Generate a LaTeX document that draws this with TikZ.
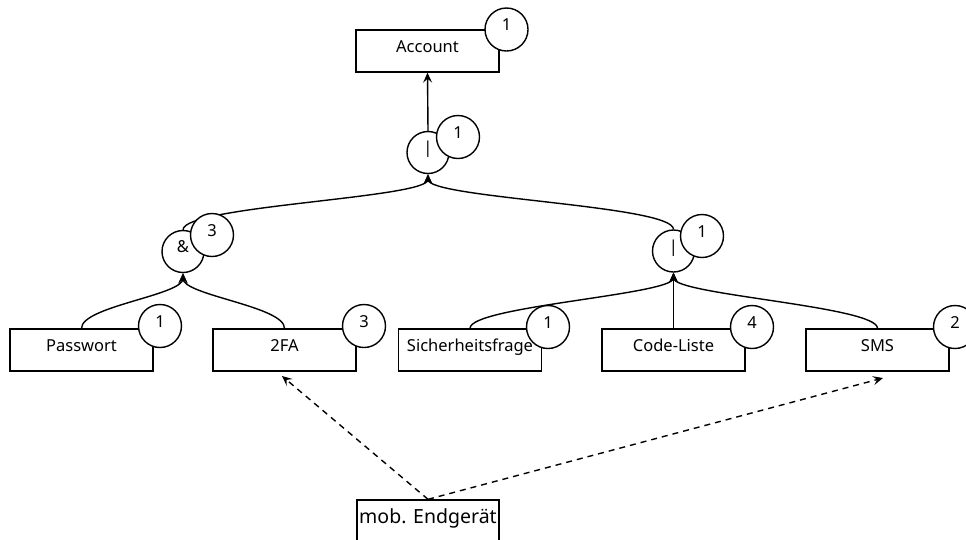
\documentclass[tikz,border=0pt]{standalone}
\usepackage{fontspec}
\setmainfont{Noto Sans}
\usetikzlibrary{arrows.meta,backgrounds}
\begin{document}
\begin{tikzpicture}[x=1pt,y=-1pt,
  every node/.style={font=\fontsize{16.5}{20}\selectfont},
  box/.style={draw, fill=white, line width=1.4pt, minimum width=143pt,
    minimum height=42pt, inner sep=0pt, text height=12pt, text depth=10pt},
  gate/.style={draw, circle, fill=white, line width=1.4pt, minimum size=42pt,
    inner sep=0pt, text height=12pt, text depth=10pt},
  cost/.style={gate, minimum size=43pt},
  link/.style={line width=1.4pt, -{Stealth[length=10pt,width=9pt,inset=4pt]}},
  uses/.style={link, dash pattern=on 6pt off 5pt},
]
\useasboundingbox (0,0) rectangle (966,539);
\clip (0,0) rectangle (966,539);

% root
\node[box] (acc) at (427.5,51) {Account};
\node[cost] (accn) at (506.5,29.5) {1};

% gates
\node[gate] (or1) at (428,152.5) {|};
\node[cost] (or1n) at (458,137) {1};
\node[gate] (and) at (183,251.5) {\&};
\node[cost] (andn) at (212,235) {3};
\node[gate] (or2) at (673.5,251) {|};
\node[cost] (or2n) at (702,236) {1};

% leaves
\node[box] (pw) at (81.5,350) {Passwort};
\node[cost] (pwn) at (160,326) {1};
\node[box] (fa) at (284.5,350) {2FA};
\node[cost] (fan) at (364,326) {3};
\node[box] (sf) at (470,350) {Sicherheitsfrage};
\node[cost] (sfn) at (548,327) {1};
\node[box] (cl) at (673.5,350) {Code-Liste};
\node[cost] (cln) at (752,327) {4};
\node[box] (sms) at (877.5,350) {SMS};
\node[cost] (smsn) at (955,327) {2};

% device
\node[box, minimum width=142pt, minimum height=60pt,
  font=\fontsize{19.5}{23}\selectfont, text height=15pt, text depth=29pt]
  (mob) at (428,530) {mob. Endgerät};
\coordinate (tfa) at (282,376);
\coordinate (tsms) at (883,378);

\begin{scope}[on background layer]
  \draw[link] (or1.north) -- (acc.south);
  \draw[link] (and.north) .. controls +(0,-24) and +(0,24) .. (or1.south);
  \draw[link] (or2.north) .. controls +(0,-24) and +(0,24) .. (or1.south);
  \draw[link] (pw.north) .. controls +(0,-22) and +(0,22) .. (and.south);
  \draw[link] (fa.north) .. controls +(0,-22) and +(0,22) .. (and.south);
  \draw[link] (sf.north) .. controls +(0,-22) and +(0,22) .. (or2.south);
  \draw[link] (cl.north) -- (or2.south);
  \draw[link] (sms.north) .. controls +(0,-22) and +(0,22) .. (or2.south);
  \draw[uses] (mob.north) -- (tfa);
  \draw[uses] (mob.north) -- (tsms);
\end{scope}
\end{tikzpicture}
\end{document}
